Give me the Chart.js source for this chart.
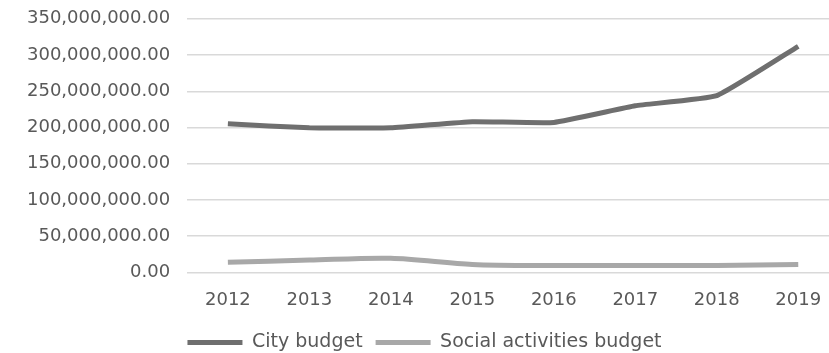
<!DOCTYPE html>
<html>
<head>
<meta charset="utf-8">
<script src="https://cdn.jsdelivr.net/npm/chart.js@4"></script>
<style>
  html, body { margin: 0; padding: 0; background: #fff; overflow: hidden; }
  #wrap { width: 870px; height: 362px; margin-top: -9px; }
</style>
</head>
<body>
<div id="wrap"><canvas id="chart"></canvas></div>
<script>
// values
var years = ["2012", "2013", "2014", "2015", "2016", "2017", "2018", "2019"];
var cityBudget = [205000000, 199500000, 199500000, 208000000, 207000000, 230000000, 244000000, 312000000];
var socialBudget = [14000000, 17000000, 19500000, 11000000, 9500000, 9500000, 9500000, 11000000];
var seriesNames = ["City budget", "Social activities budget"];

function money(v) {
    return Number(v).toLocaleString("en-US", { minimumFractionDigits: 2, maximumFractionDigits: 2 });
}

var ctx = document.getElementById("chart");
var myChart = new Chart(ctx, {
    type: "line",
    data: {
        labels: years,
        datasets: [
            { label: seriesNames[0], data: cityBudget, borderColor: "#6f6f6f", backgroundColor: "#6f6f6f",
              borderWidth: 5, pointRadius: 0, tension: 0.12, fill: false },
            { label: seriesNames[1], data: socialBudget, borderColor: "#a8a8a8", backgroundColor: "#a8a8a8",
              borderWidth: 5, pointRadius: 0, tension: 0.3, fill: false }
        ]
    },
    options: {
        responsive: true,
        maintainAspectRatio: false,
        animation: false,
        layout: { padding: { left: 10, right: 31, top: 0, bottom: -9 } },
        scales: {
            x: {
                offset: true,
                grid: { display: false },
                border: { display: false },
                ticks: { color: "#595959", font: { family: "DejaVu Sans", size: 18 }, padding: 9 }
            },
            y: {
                min: 0,
                max: 350000000,
                grid: { color: "#d9d9d9", lineWidth: 1.5, drawTicks: false },
                border: { display: false },
                ticks: {
                    stepSize: 50000000,
                    color: "#595959",
                    font: { family: "DejaVu Sans", size: 18 },
                    padding: 17,
                    callback: function (v) { return money(v); }
                }
            }
        },
        plugins: {
            tooltip: { enabled: false },
            legend: {
                position: "bottom",
                labels: {
                    color: "#595959",
                    font: { family: "DejaVu Sans", size: 19 },
                    boxWidth: 55,
                    boxHeight: 5,
                    padding: 13,
                    generateLabels: function (chart) {
                        return chart.data.datasets.map(function (ds, i) {
                            return { text: ds.label, fillStyle: ds.borderColor, strokeStyle: ds.borderColor,
                                     lineWidth: 0, datasetIndex: i, fontColor: "#595959" };
                        });
                    }
                }
            }
        }
    }
});
</script>
</body>
</html>
